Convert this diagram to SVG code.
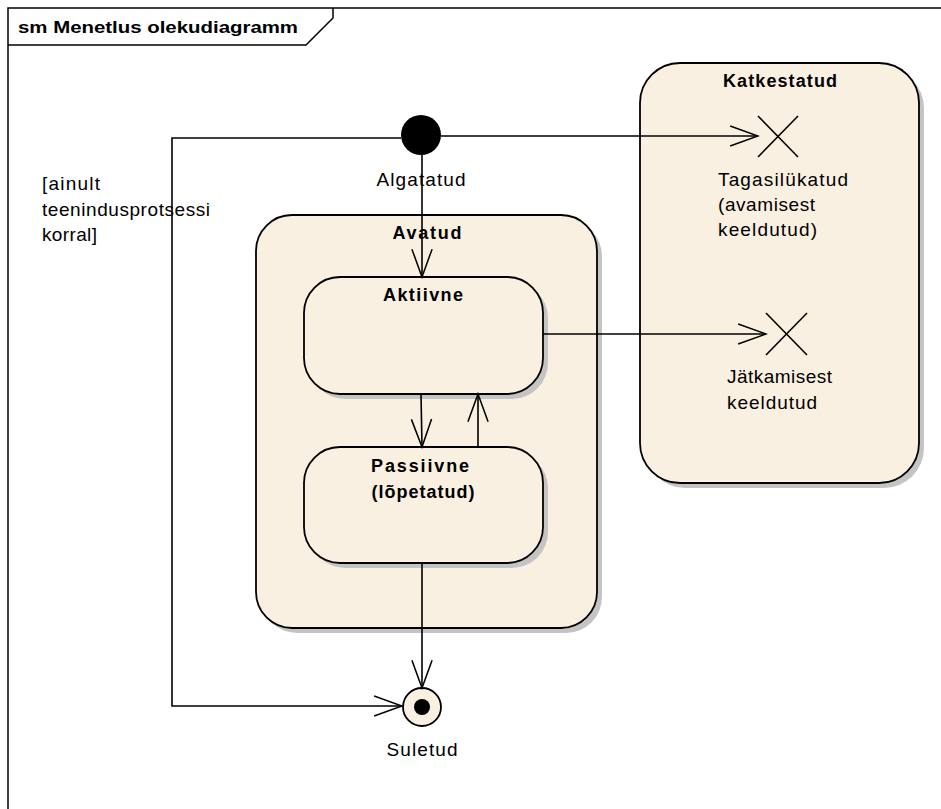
<svg xmlns="http://www.w3.org/2000/svg" width="941" height="809" viewBox="0 0 941 809">
  <style>
    .frame { fill: none; stroke: #000; stroke-width: 1.5; }
    .state { fill: #FAF0E2; stroke: #000; stroke-width: 1.8; }
    .shadow { fill: #C4C4C4; }
    .edge { fill: none; stroke: #000; stroke-width: 1.6; }
    .cross { stroke: #000; stroke-width: 1.6; }
    .t { font-family: "Liberation Sans", Arial, sans-serif; font-size: 19px; fill: #000; }
    .b { font-family: "Liberation Sans", Arial, sans-serif; font-size: 18px; font-weight: bold; fill: #000; }
    .title { font-family: "Liberation Sans", Arial, sans-serif; font-size: 17px; font-weight: bold; fill: #000; }
  </style>
  <defs>
    <marker id="open" markerUnits="userSpaceOnUse" markerWidth="32" markerHeight="24" refX="29" refY="10.5" orient="auto" viewBox="-2 -2 32 25">
      <path d="M0,0 L29,10.5 L0,21" fill="none" stroke="#000" stroke-width="1.6"/>
    </marker>
  </defs>

  <rect width="941" height="809" fill="#fff"/>

  <!-- diagram frame with name tab -->
  <g id="frame">
    <rect class="frame" x="8" y="8" width="1000" height="1000"/>
    <path class="frame" d="M8,45 H306 L333,18 V8"/>
    <text class="title" x="18" y="33" textLength="280" lengthAdjust="spacingAndGlyphs">sm Menetlus olekudiagramm</text>
  </g>

  <!-- composite state Katkestatud -->
  <g id="katkestatud">
    <rect class="shadow" x="645" y="68" width="279" height="420" rx="40"/>
    <rect class="state" x="640" y="63" width="279" height="420" rx="40"/>
    <text class="b" x="780" y="87" text-anchor="middle" textLength="114" lengthAdjust="spacing">Katkestatud</text>
  </g>

  <!-- composite state Avatud -->
  <g id="avatud">
    <rect class="shadow" x="261" y="220" width="341" height="413" rx="36"/>
    <rect class="state" x="256" y="215" width="341" height="413" rx="36"/>
    <text class="b" x="427" y="239" text-anchor="middle" textLength="69" lengthAdjust="spacing">Avatud</text>
  </g>

  <g id="aktiivne">
    <rect class="shadow" x="309" y="282" width="239" height="117" rx="36"/>
    <rect class="state" x="304" y="277" width="239" height="117" rx="36"/>
    <text class="b" x="423" y="301" text-anchor="middle" textLength="80" lengthAdjust="spacing">Aktiivne</text>
  </g>

  <g id="passiivne">
    <rect class="shadow" x="309" y="452" width="239" height="116" rx="36"/>
    <rect class="state" x="304" y="447" width="239" height="116" rx="36"/>
    <text class="b" x="420" y="472" text-anchor="middle" textLength="98" lengthAdjust="spacing">Passiivne</text>
    <text class="b" x="423" y="498" text-anchor="middle" textLength="103" lengthAdjust="spacing">(lõpetatud)</text>
  </g>

  <!-- initial pseudostate -->
  <g id="algatatud">
    <circle cx="421" cy="135" r="20" fill="#000"/>
    <text class="t" x="421" y="186" text-anchor="middle" textLength="89" lengthAdjust="spacing">Algatatud</text>
  </g>

  <!-- terminate pseudostates -->
  <g id="tagasilykatud">
    <line class="cross" x1="758" y1="116" x2="798" y2="157"/>
    <line class="cross" x1="798" y1="116" x2="758" y2="157"/>
    <text class="t" x="718" y="186" textLength="130" lengthAdjust="spacing">Tagasilükatud</text>
    <text class="t" x="718" y="211" textLength="97" lengthAdjust="spacing">(avamisest</text>
    <text class="t" x="718" y="236" textLength="99" lengthAdjust="spacing">keeldutud)</text>
  </g>

  <g id="jatkamisest-keeldutud">
    <line class="cross" x1="766" y1="313" x2="807" y2="355"/>
    <line class="cross" x1="807" y1="313" x2="766" y2="355"/>
    <text class="t" x="727" y="383" textLength="105" lengthAdjust="spacing">Jätkamisest</text>
    <text class="t" x="727" y="409" textLength="90" lengthAdjust="spacing">keeldutud</text>
  </g>

  <!-- final state -->
  <g id="suletud">
    <circle cx="422" cy="707" r="19" fill="#FAF0E2" stroke="#000" stroke-width="1.8"/>
    <circle cx="422" cy="707" r="8" fill="#000"/>
    <text class="t" x="422" y="756" text-anchor="middle" textLength="71" lengthAdjust="spacing">Suletud</text>
  </g>

  <!-- guard label -->
  <g id="guard">
    <text class="t" x="42" y="190" textLength="58" lengthAdjust="spacing">[ainult</text>
    <text class="t" x="42" y="216" textLength="168" lengthAdjust="spacing">teenindusprotsessi</text>
    <text class="t" x="42" y="241" textLength="55" lengthAdjust="spacing">korral]</text>
  </g>

  <!-- transitions -->
  <g id="connectors">
    <path class="edge" d="M422,155 V277" marker-end="url(#open)"/>
    <path class="edge" d="M441,136 H758" marker-end="url(#open)"/>
    <path class="edge" d="M401,138 H172 V706 H402" marker-end="url(#open)"/>
    <path class="edge" d="M543,334 H766" marker-end="url(#open)"/>
    <path class="edge" d="M421,394 L422,447" marker-end="url(#open)"/>
    <path class="edge" d="M478,447 V394" marker-end="url(#open)"/>
    <path class="edge" d="M422,563 V688" marker-end="url(#open)"/>
  </g>
</svg>
